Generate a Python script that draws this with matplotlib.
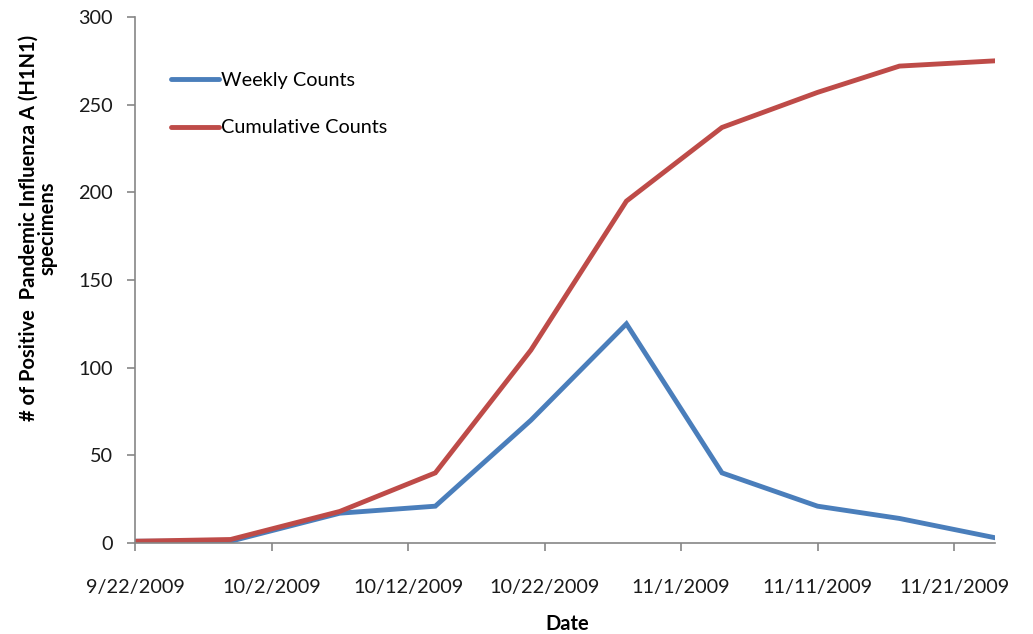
import matplotlib
matplotlib.use("Agg")
import matplotlib.pyplot as plt
from datetime import datetime

# data
dates = ["2009-09-22", "2009-09-29", "2009-10-07", "2009-10-14", "2009-10-21",
         "2009-10-28", "2009-11-04", "2009-11-11", "2009-11-17", "2009-11-24"]
weekly = [1, 1, 17, 21, 70, 125, 40, 21, 14, 3]
cumulative = [1, 2, 18, 40, 110, 195, 237, 257, 272, 275]
tick_dates = ["2009-09-22", "2009-10-02", "2009-10-12", "2009-10-22",
              "2009-11-01", "2009-11-11", "2009-11-21"]
tick_labels = ["9/22/2009", "10/2/2009", "10/12/2009", "10/22/2009",
               "11/1/2009", "11/11/2009", "11/21/2009"]
y_ticks = [0, 50, 100, 150, 200, 250, 300]

x = [datetime.strptime(d, "%Y-%m-%d") for d in dates]
xt = [datetime.strptime(d, "%Y-%m-%d") for d in tick_dates]

plt.rcParams["font.family"] = ["Lato", "DejaVu Sans"]

W, H = 1033, 634
fig = plt.figure(figsize=(W / 100, H / 100), dpi=100)
ax = fig.add_axes([135 / W, 1 - 543 / H, 860 / W, 526 / H])

ax.plot(x, weekly, color="#4A7EBB", lw=3.5, solid_capstyle="round",
        solid_joinstyle="miter", label="Weekly Counts")
ax.plot(x, cumulative, color="#BE4B48", lw=3.5, solid_capstyle="round",
        solid_joinstyle="miter", label="Cumulative Counts")

ax.set_xlim(datetime(2009, 9, 22), datetime(2009, 11, 24))
ax.set_ylim(0, 300)
ax.set_yticks(y_ticks)
ax.set_xticks(xt)
ax.set_xticklabels(tick_labels)

for s in ["top", "right"]:
    ax.spines[s].set_visible(False)
for s in ["left", "bottom"]:
    ax.spines[s].set_color("#868686")
    ax.spines[s].set_linewidth(1.2)
ax.tick_params(axis="both", colors="#868686", labelcolor="#1a1a1a",
               labelsize=14.3, length=6, width=1.2, direction="out")
ax.tick_params(axis="x", pad=20)
ax.tick_params(axis="y", pad=10)

fig.text(567 / W, 1 - 624 / H, "Date", fontsize=14.5, fontweight="bold",
         ha="center", va="center")
fig.text(38 / W, 1 - 228 / H,
         "# of Positive  Pandemic Influenza A (H1N1)\nspecimens",
         fontsize=14.5, fontweight="bold", rotation=90, ha="center",
         va="center", multialignment="center", linespacing=0.95)

ax.legend(loc="upper left", bbox_to_anchor=(0.021, 0.93), frameon=False,
          fontsize=14.3, handlelength=2.4, handletextpad=0.1,
          labelspacing=1.55)

fig.savefig("out.png", dpi=100)
